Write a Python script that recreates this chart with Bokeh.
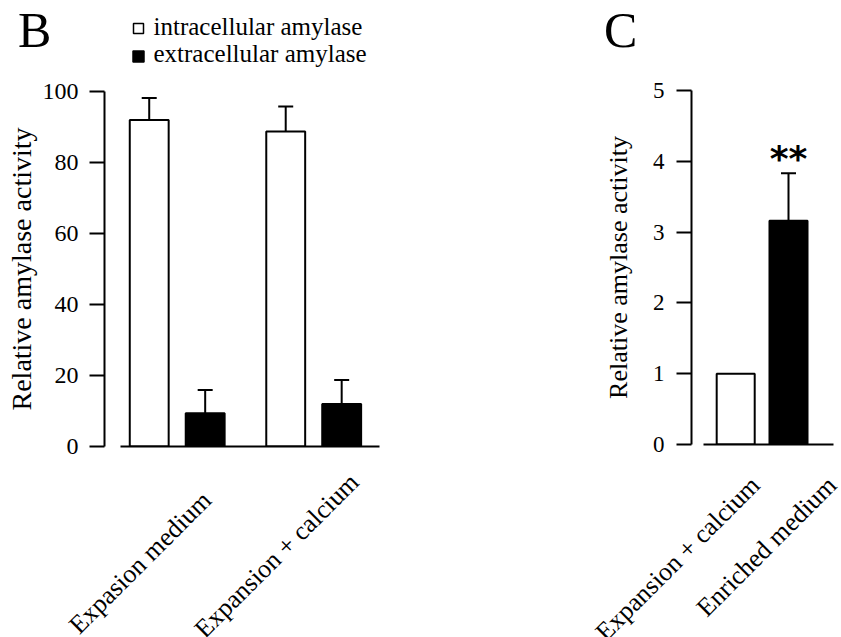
import numpy as np
from bokeh.plotting import figure
from bokeh.models import (Range1d, FixedTicker, Whisker, TeeHead, ColumnDataSource)
from bokeh.layouts import row, column
from bokeh.embed import file_html
from bokeh.resources import INLINE
from bokeh.core.properties import value

# ---------------- data ----------------
# Panel B
b_groups = ["Expasion medium", "Expansion + calcium"]
b_series = ["intracellular amylase", "extracellular amylase"]
b_intra = [92.0, 88.7]
b_intra_err = [6.2, 7.1]
b_extra = [9.4, 12.0]
b_extra_err = [6.5, 6.7]
b_yticks = [0, 20, 40, 60, 80, 100]

# Panel C
c_groups = ["Expansion + calcium", "Enriched medium"]
c_vals = [1.0, 3.16]
c_err = [0.0, 0.67]
c_yticks = [0, 1, 2, 3, 4, 5]
c_sig = ["", "**"]

SERIF = "Liberation Serif"
AXIS_LABEL = "Relative amylase activity"

# ---------------- layout (page pixels) ----------------
PAGE = 0
B_W, C_W = 568, 273
TOP_H, MAIN_H = 70, 392
BOT_H = 637 - TOP_H - MAIN_H
TOP_Y1 = PAGE + TOP_H              # bottom of the top strip
BOT_Y0 = PAGE + TOP_H + MAIN_H     # top of the bottom strip
BOT_Y1 = BOT_Y0 + BOT_H


def no_align(p):
    try:
        p.frame_align = False
    except Exception:
        pass


def strip(x0, width, height):
    p = figure(width=width, height=height, output_backend="svg",
               toolbar_location=None, title=None,
               x_axis_location=None, y_axis_location=None,
               x_range=Range1d(x0, x0 + width), y_range=Range1d(0, height),
               min_border=0)
    no_align(p)
    p.outline_line_color = None
    p.xgrid.visible = False
    p.ygrid.visible = False
    for g in p.grid:
        g.visible = False
    p.background_fill_color = "white"
    p.border_fill_color = "white"
    return p


def style_axes(p, yticks, tick_size, title_size, title_standoff, label_standoff,
               xbounds, ybounds):
    no_align(p)
    p.outline_line_color = None
    p.xgrid.visible = False
    p.ygrid.visible = False
    p.background_fill_color = "white"
    p.border_fill_color = "white"
    ya = p.yaxis[0]
    ya.ticker = FixedTicker(ticks=yticks)
    ya.bounds = ybounds
    ya.axis_line_width = 2
    ya.axis_line_color = "black"
    ya.major_tick_line_width = 2
    ya.major_tick_line_color = "black"
    ya.major_tick_out = 15
    ya.major_tick_in = 0
    ya.minor_tick_out = 0
    ya.minor_tick_in = 0
    ya.major_label_text_font = SERIF
    ya.major_label_text_font_size = tick_size
    ya.major_label_text_color = "black"
    ya.major_label_standoff = label_standoff
    ya.axis_label = AXIS_LABEL
    ya.axis_label_text_font = SERIF
    ya.axis_label_text_font_style = "normal"
    ya.axis_label_text_font_size = title_size
    ya.axis_label_text_color = "black"
    ya.axis_label_standoff = title_standoff
    xa = p.xaxis[0]
    xa.ticker = FixedTicker(ticks=[])
    xa.bounds = xbounds
    xa.axis_line_width = 2
    xa.axis_line_color = "black"
    xa.major_tick_out = 0
    xa.major_tick_in = 0
    xa.minor_tick_out = 0
    xa.minor_tick_in = 0
    xa.major_label_text_font_size = "0px"


def mid_y(baseline_px, size_px):
    """page y of the 'middle' anchor that puts the text baseline at baseline_px"""
    return baseline_px - 0.35 * size_px


# ================= panel B =================
BX0, BSX = 176.7, 136.5      # page x of group 0 centre, px per group step
BY0, BSY = 446.0, 3.55       # page y of value 0, px per unit


def bpx(px):
    return (px - BX0) / BSX


mainB = figure(width=B_W, height=MAIN_H, output_backend="svg", toolbar_location=None,
               title=None,
               x_range=Range1d(bpx(104), bpx(390)), y_range=Range1d(0, 100),
               min_border_left=104, min_border_right=B_W - 104 - 286,
               min_border_top=21, min_border_bottom=16)

gx = np.arange(len(b_groups), dtype=float)
off, bw = 0.205, 0.285
src_i = ColumnDataSource(dict(x=gx - off, top=b_intra, lo=b_intra,
                              hi=np.array(b_intra) + np.array(b_intra_err)))
src_e = ColumnDataSource(dict(x=gx + off, top=b_extra, lo=b_extra,
                              hi=np.array(b_extra) + np.array(b_extra_err)))
for src in (src_i, src_e):
    mainB.add_layout(Whisker(base="x", lower="lo", upper="hi", source=src,
                             line_width=2, line_color="black",
                             upper_head=TeeHead(size=15, line_width=2, line_color="black"),
                             lower_head=None, level="underlay"))
mainB.vbar(x="x", top="top", width=bw, bottom=0, source=src_i,
           fill_color="white", line_color="black", line_width=2)
mainB.vbar(x="x", top="top", width=bw, bottom=0, source=src_e,
           fill_color="black", line_color="black", line_width=2)
style_axes(mainB, b_yticks, "24px", "28px", 3, 11, (bpx(120), bpx(379)), (0, 100))

# top strip B: panel letter + legend
topB = strip(PAGE, B_W, TOP_H)
topB.text(x=[17.5], y=[TOP_Y1 - mid_y(47, 50)], text=["B"], text_font=value(SERIF),
          text_font_size="50px", text_color="black", text_align="left",
          text_baseline="middle")
leg_marker_y = [28, 56]
leg_text_base = [35, 62]
topB.scatter(x=[138, 138], y=[TOP_Y1 - v for v in leg_marker_y], marker="square",
             size=[10, 11], fill_color=["white", "black"], line_color="black",
             line_width=1.5)
topB.text(x=[153, 153], y=[TOP_Y1 - mid_y(v, 25) for v in leg_text_base], text=b_series,
          text_font=value(SERIF), text_font_size="25px", text_color="black",
          text_align="left", text_baseline="middle")

# bottom strip B: rotated category labels
botB = strip(PAGE, B_W, BOT_H)
b_lab_dx = [-37, -37]
b_lab_cy = [562, 555]
botB.text(x=[BX0 + BSX * i + b_lab_dx[i] for i in range(len(b_groups))],
          y=[BOT_Y1 - cy for cy in b_lab_cy], text=b_groups, angle=np.pi / 4,
          text_font=value(SERIF), text_font_size="26px", text_color="black",
          text_align="center", text_baseline="middle")

# ================= panel C =================
CX0, CSX = 735.2, 52.8
CY0, CSY = 444.0, 70.8
C_X = PAGE + B_W


def cpx(px):
    return (px - CX0) / CSX


mainC = figure(width=C_W, height=MAIN_H, output_backend="svg", toolbar_location=None,
               title=None,
               x_range=Range1d(cpx(691), cpx(836)), y_range=Range1d(0, 5),
               min_border_left=691 - C_X, min_border_right=C_X + C_W - 836,
               min_border_top=20, min_border_bottom=18)
cx = np.arange(len(c_groups), dtype=float)
cv = np.array(c_vals)
ce = np.array(c_err)
has_err = ce > 0
src_c = ColumnDataSource(dict(x=cx, top=cv, fill=["white", "black"]))
src_ce = ColumnDataSource(dict(x=cx[has_err], lo=cv[has_err], hi=(cv + ce)[has_err]))
mainC.add_layout(Whisker(base="x", lower="lo", upper="hi", source=src_ce,
                         line_width=2, line_color="black",
                         upper_head=TeeHead(size=15, line_width=2, line_color="black"),
                         lower_head=None, level="underlay"))
mainC.vbar(x="x", top="top", width=0.72, bottom=0, source=src_c,
           fill_color="fill", line_color="black", line_width=2)
mainC.text(x=cx, y=cv + ce, text=c_sig, text_font=value("DejaVu Sans"),
           text_font_style="bold", text_font_size="36px", text_color="black",
           text_align="center", text_baseline="alphabetic", y_offset=-15)
style_axes(mainC, c_yticks, "23px", "26px", 17, 12, (cpx(702.7), cpx(832.7)), (0, 5))

topC = strip(C_X, C_W, TOP_H)
topC.text(x=[603.5], y=[TOP_Y1 - mid_y(47, 50)], text=["C"], text_font=value(SERIF),
          text_font_size="50px", text_color="black", text_align="left",
          text_baseline="middle")

botC = strip(C_X, C_W, BOT_H)
c_lab_dx = [-58, -22]
c_lab_cy = [558, 546]
botC.text(x=[CX0 + CSX * i + c_lab_dx[i] for i in range(len(c_groups))],
          y=[BOT_Y1 - cy for cy in c_lab_cy], text=c_groups, angle=np.pi / 4,
          text_font=value(SERIF), text_font_size="26px", text_color="black",
          text_align="center", text_baseline="middle")

layout = row(column(topB, mainB, botB), column(topC, mainC, botC))
open("out.html", "w").write(file_html(layout, INLINE))
